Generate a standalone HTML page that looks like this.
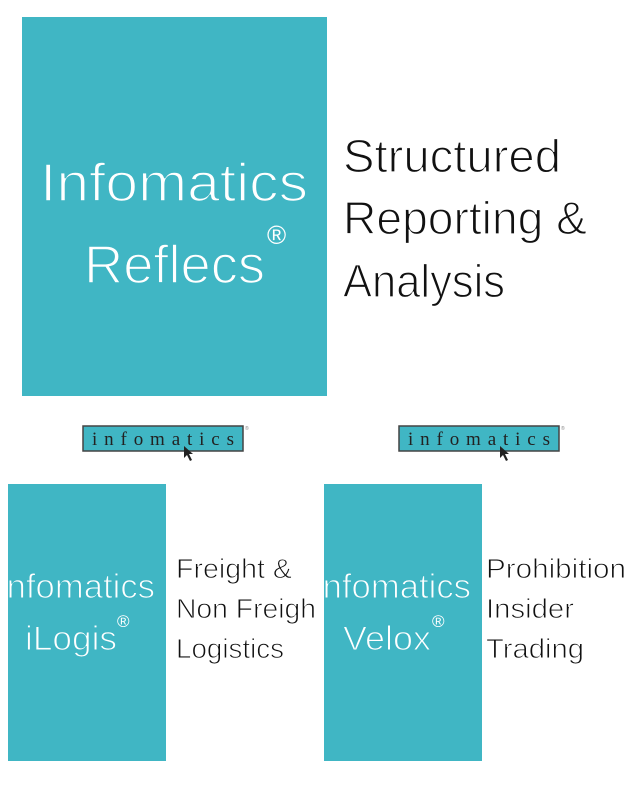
<!DOCTYPE html>
<html><head><style>html,body{margin:0;padding:0;background:#fff;width:640px;height:800px;overflow:hidden}</style></head>
<body>
<svg width="640" height="800" xmlns="http://www.w3.org/2000/svg" font-family="'Liberation Sans', sans-serif">
<defs>
<clipPath id="c1"><rect x="8" y="484" width="158" height="277"/></clipPath>
<clipPath id="c2"><rect x="324" y="484" width="158" height="277"/></clipPath>
</defs>
<rect x="22" y="17" width="305" height="379" fill="#40b6c4"/>
<g fill="#fff" stroke="#40b6c4" stroke-width="1.6">
<text x="40" y="201" font-size="54" textLength="268" lengthAdjust="spacingAndGlyphs">Infomatics</text>
<text x="84" y="283" font-size="54" textLength="181" lengthAdjust="spacingAndGlyphs">Reflecs</text>
</g>
<text x="267" y="244" font-size="26" fill="#fff">®</text>
<g fill="#111" font-size="46" stroke="#fff" stroke-width="1.3">
<text x="343" y="172" textLength="218" lengthAdjust="spacingAndGlyphs">Structured</text>
<text x="343" y="234" textLength="244" lengthAdjust="spacingAndGlyphs">Reporting &amp;</text>
<text x="343" y="297" textLength="162" lengthAdjust="spacingAndGlyphs">Analysis</text>
</g>
<g id="logo">
<rect x="83" y="426" width="160" height="25" fill="#40b6c4" stroke="#444" stroke-width="1.5"/>
<text x="92" y="445" font-family="'Liberation Serif', serif" font-size="19" fill="#222" textLength="142" lengthAdjust="spacing">infomatics</text>
<path d="M184 446 L184 458 L187 455 L190 461 L192 460 L189 454 L193 454 Z" fill="#222"/>
<text x="245" y="430" font-size="5" fill="#888">®</text>
</g>
<use href="#logo" transform="translate(316,0)"/>
<rect x="8" y="484" width="158" height="277" fill="#40b6c4"/>
<rect x="324" y="484" width="158" height="277" fill="#40b6c4"/>
<g fill="#fff" stroke="#40b6c4" stroke-width="1.1" font-size="34">
<text x="-3" y="598" clip-path="url(#c1)" textLength="158" lengthAdjust="spacingAndGlyphs">Infomatics</text>
<text x="25" y="650" textLength="92" lengthAdjust="spacingAndGlyphs">iLogis</text>
<text x="313" y="598" clip-path="url(#c2)" textLength="158" lengthAdjust="spacingAndGlyphs">Infomatics</text>
<text x="343" y="650" textLength="88" lengthAdjust="spacingAndGlyphs">Velox</text>
</g>
<text x="117" y="627" font-size="17" fill="#fff">®</text>
<text x="432" y="627" font-size="17" fill="#fff">®</text>
<g fill="#111" font-size="28" stroke="#fff" stroke-width="0.9">
<text x="176" y="578" textLength="116" lengthAdjust="spacingAndGlyphs">Freight &amp;</text>
<text x="176" y="618" textLength="140" lengthAdjust="spacingAndGlyphs">Non Freigh</text>
<text x="176" y="658" textLength="108" lengthAdjust="spacingAndGlyphs">Logistics</text>
<text x="486" y="578" textLength="140" lengthAdjust="spacingAndGlyphs">Prohibition</text>
<text x="486" y="618" textLength="88" lengthAdjust="spacingAndGlyphs">Insider</text>
<text x="486" y="658" textLength="98" lengthAdjust="spacingAndGlyphs">Trading</text>
</g>
</svg>
</body></html>
